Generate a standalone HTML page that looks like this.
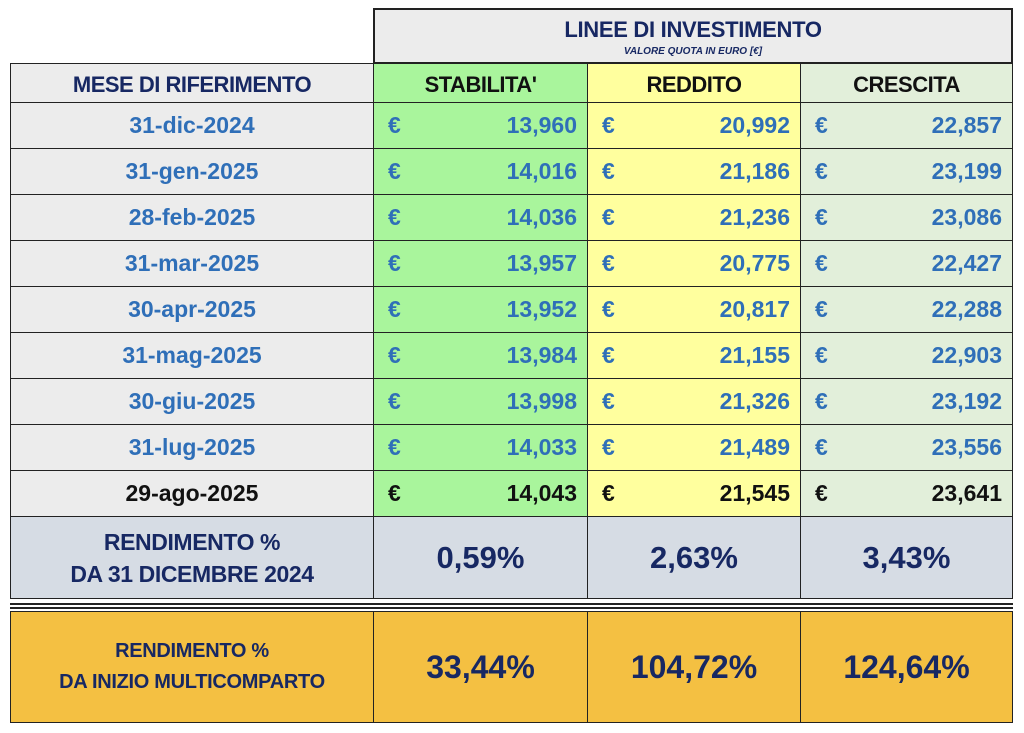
<!DOCTYPE html>
<html><head><meta charset="utf-8"><style>
body{margin:0;width:1024px;height:733px;background:#fff;position:relative;overflow:hidden;font-family:"Liberation Sans",sans-serif;font-weight:bold}
.c{position:absolute;box-sizing:border-box;border:1.5px solid #222;display:flex;align-items:center;justify-content:center;white-space:nowrap}
.n{color:#172863}
.v{justify-content:space-between;padding:0 10px 0 14px}
</style></head><body>
<div class="c n" style="left:373px;top:8px;width:640px;height:56px;background:#ececec;flex-direction:column;border-width:2px">
<div style="font-size:22px;letter-spacing:-0.3px;margin-top:2px">LINEE DI INVESTIMENTO</div>
<div style="font-size:10px;font-style:italic;margin-top:3px">VALORE QUOTA IN EURO [€]</div></div>
<div class="c n" style="left:10px;top:63px;width:364px;height:40px;background:#ececec;font-size:22px;letter-spacing:-0.5px;padding-top:4px">MESE DI RIFERIMENTO</div>
<div class="c" style="left:373px;top:63px;width:215px;height:40px;background:#a9f59c;font-size:22px;color:#111;letter-spacing:-0.5px;padding-top:4px">STABILITA'</div>
<div class="c" style="left:587px;top:63px;width:214px;height:40px;background:#ffff9e;font-size:22px;color:#111;letter-spacing:-0.5px;padding-top:4px">REDDITO</div>
<div class="c" style="left:800px;top:63px;width:213px;height:40px;background:#e2efda;font-size:22px;color:#111;letter-spacing:-0.5px;padding-top:4px">CRESCITA</div>
<div id="rows"></div>
<div class="c n" style="left:10px;top:516px;width:364px;height:83px;background:#d6dce4;font-size:23px;flex-direction:column;line-height:32px;letter-spacing:-0.4px"><div>RENDIMENTO %</div><div>DA 31 DICEMBRE 2024</div></div>
<div class="c n" style="left:373px;top:516px;width:215px;height:83px;background:#d6dce4;font-size:31px">0,59%</div>
<div class="c n" style="left:587px;top:516px;width:214px;height:83px;background:#d6dce4;font-size:31px">2,63%</div>
<div class="c n" style="left:800px;top:516px;width:213px;height:83px;background:#d6dce4;font-size:31px">3,43%</div>
<div style="position:absolute;left:10px;top:603px;width:1003px;height:2px;background:#222"></div>
<div style="position:absolute;left:10px;top:607px;width:1003px;height:2px;background:#222"></div>
<div class="c n" style="left:10px;top:611px;width:364px;height:112px;background:#f4c042;font-size:20px;flex-direction:column;line-height:31px;letter-spacing:-0.3px"><div>RENDIMENTO %</div><div>DA INIZIO MULTICOMPARTO</div></div>
<div class="c n" style="left:373px;top:611px;width:215px;height:112px;background:#f4c042;font-size:32px">33,44%</div>
<div class="c n" style="left:587px;top:611px;width:214px;height:112px;background:#f4c042;font-size:32px">104,72%</div>
<div class="c n" style="left:800px;top:611px;width:213px;height:112px;background:#f4c042;font-size:32px">124,64%</div>
<script>
var d=[["31-dic-2024","13,960","20,992","22,857"],["31-gen-2025","14,016","21,186","23,199"],["28-feb-2025","14,036","21,236","23,086"],["31-mar-2025","13,957","20,775","22,427"],["30-apr-2025","13,952","20,817","22,288"],["31-mag-2025","13,984","21,155","22,903"],["30-giu-2025","13,998","21,326","23,192"],["31-lug-2025","14,033","21,489","23,556"],["29-ago-2025","14,043","21,545","23,641"]];
var h="";
d.forEach(function(r,i){var y=102+46*i,k=i==8?"color:#111":"color:#2f6fb8";
h+='<div class="c" style="left:10px;top:'+y+'px;width:364px;height:47px;background:#ececec;font-size:23px;'+k+'">'+r[0]+'</div>';
var cols=[[373,215,"#a9f59c"],[587,214,"#ffff9e"],[800,213,"#e2efda"]];
cols.forEach(function(c,j){h+='<div class="c v" style="left:'+c[0]+'px;top:'+y+'px;width:'+c[1]+'px;height:47px;background:'+c[2]+';font-size:23px;'+k+'"><span>€</span><span>'+r[j+1]+'</span></div>';});
});
document.getElementById("rows").innerHTML=h;
</script>
</body></html>
